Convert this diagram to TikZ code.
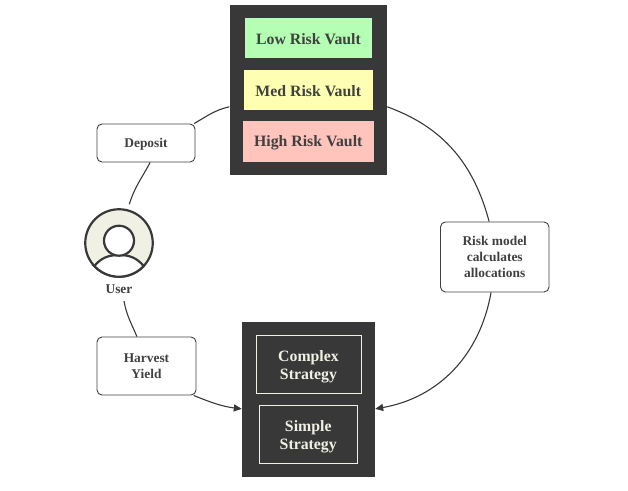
\documentclass[tikz,border=0pt]{standalone}
\usepackage{fontspec}
\setmainfont{Liberation Serif}
\usetikzlibrary{arrows.meta}
\definecolor{darkbox}{HTML}{383838}
\definecolor{darktext}{HTML}{404040}
\definecolor{cream}{HTML}{F0F0E4}
\definecolor{lowrisk}{HTML}{B4FFB4}
\definecolor{medrisk}{HTML}{FFFFB4}
\definecolor{highrisk}{HTML}{FFC4BC}
\def\lowerline{\rule{0pt}{16.5pt}}
\tikzset{
  panel/.style={fill=darkbox,draw=none,inner sep=0pt,minimum width=#1},
  vault/.style={draw=none,inner sep=0pt,text=darktext,font=\fontsize{15.8}{18}\selectfont\bfseries,
    execute at begin node={\rule{0pt}{12.7pt}}},
  strategy/.style={draw=cream,line width=.9pt,inner sep=0pt,align=center,text=cream,
    font=\fontsize{15.8}{18.5}\selectfont\bfseries},
  stepbox/.style={draw=darktext,line width=.9pt,rounded corners=5pt,inner sep=0pt,align=center,
    text=darktext,font=\fontsize{13.4}{15.6}\selectfont\bfseries},
  flow/.style={draw=darkbox,line width=1.1pt},
  flowarrow/.style={flow,-{Triangle[length=8pt,width=7pt]}},
}
\begin{document}
\begin{tikzpicture}[x=1pt,y=-1pt]
        \useasboundingbox (0,0) rectangle (628,490);

        % vaults
        \node[panel=157.5pt,minimum height=170pt] (vaults) at (308.25,90) {};
        \node[vault,fill=lowrisk,minimum width=127pt,minimum height=40pt] (low) at (308.5,38) {Low Risk Vault};
        \node[vault,fill=medrisk,minimum width=128.5pt,minimum height=40pt] (med) at (308.25,90) {Med Risk Vault};
        \node[vault,fill=highrisk,minimum width=130.5pt,minimum height=41pt] (high) at (308.25,141.5) {High Risk Vault};

        % strategies
        \node[panel=133pt,minimum height=155pt] (strategies) at (308.5,399.5) {};
        \node[strategy,minimum width=105pt,minimum height=58pt] (complex) at (308.5,364) {\lowerline Complex\\Strategy};
        \node[strategy,minimum width=97.5pt,minimum height=58pt] (simple) at (308.25,434) {\lowerline Simple\\Strategy};

        % steps
        \node[stepbox,minimum width=98pt,minimum height=38pt,execute at begin node={\rule{0pt}{12.2pt}}] (deposit) at (146,143) {Deposit};
        \node[stepbox,minimum width=99pt,minimum height=58pt] (harvest) at (146.5,366) {Harvest\\Yield};
        \node[stepbox,minimum width=108.5pt,minimum height=70pt] (risk) at (494.75,257) {Risk model\\calculates\\allocations};

        % user icon
        \node[circle,draw=darkbox,fill=cream,line width=2.2pt,minimum size=67.5pt,inner sep=0pt,outer sep=0pt] (user) at (119,243) {};
        \draw[draw=darkbox,fill=white,line width=2.2pt] (user.223) to[out=50,in=180] (119,255) to[out=0,in=130] (user.-43) arc (43:137:33.75) -- cycle;
        \node[circle,draw=darkbox,fill=white,line width=2.2pt,minimum size=30pt,inner sep=0pt] (head) at (119,240.7) {};
        \node[text=darktext,inner sep=0pt,font=\fontsize{13.4}{15}\selectfont\bfseries] (userlabel) at (119,289) {User};

        % connectors
        \draw[flow] (vaults.192.8) to[out=193,in=30] (deposit.22.9);
        \draw[flow] (deposit.-78) to[out=-118,in=73] ([shift={(10.3,-38.7)}]user.center);
        \draw[flow] ([shift={(5,12)}]userlabel.center) to[out=-80,in=113] (harvest.108);
        \draw[flowarrow] (harvest.-32) to[out=-22,in=173] (strategies.188.1);
        \draw[flow] (vaults.-12.8) to[out=-20,in=105] (risk.99.3);
        \draw[flowarrow] (risk.-96) to[out=-100,in=10] (strategies.-8.1);
\end{tikzpicture}
\end{document}
